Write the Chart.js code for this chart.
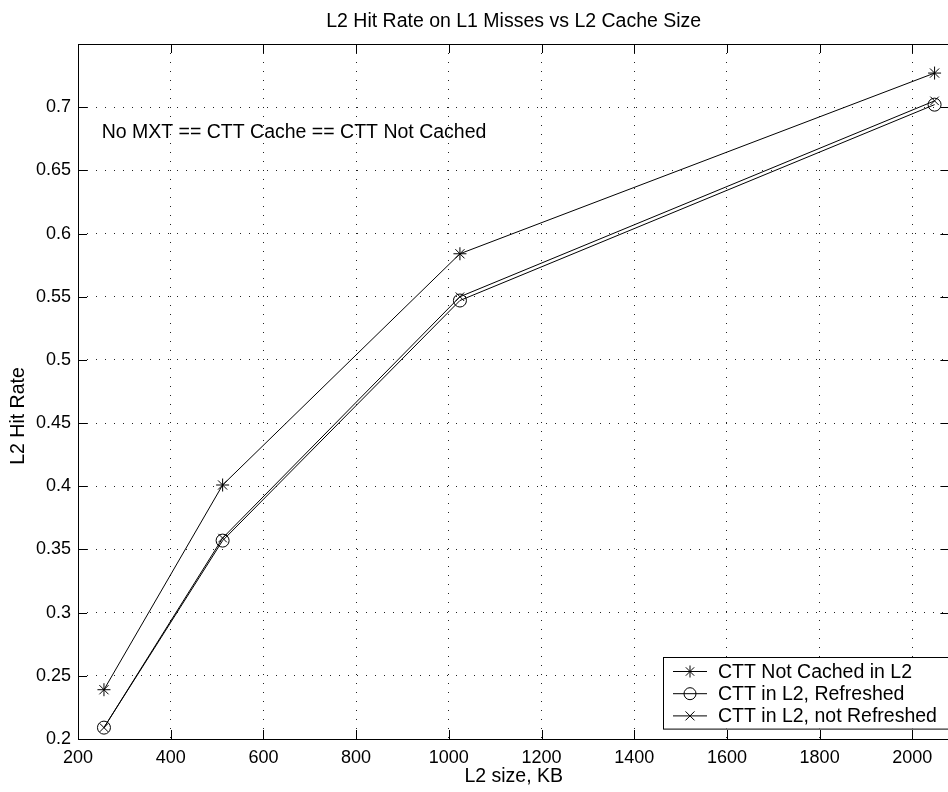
<!DOCTYPE html>
<html>
<head>
<meta charset="utf-8">
<script src="https://cdn.jsdelivr.net/npm/chart.js@4.4.1/dist/chart.umd.min.js"></script>
<style>
    html, body { margin: 0; padding: 0; overflow: hidden; background: #fff; }
    #wrap { position: relative; width: 960px; height: 792px; }
</style>
</head>
<body>
<div id="wrap"><canvas id="hitChart" width="960" height="792"></canvas></div>
<script>
// data
const sizesKB = [256, 512, 1024, 2048];
const notCachedInL2 = [0.239, 0.401, 0.584, 0.727];
const inL2Refreshed = [0.209, 0.357, 0.547, 0.702];
const inL2NotRefreshed = [0.209, 0.359, 0.550, 0.705];
const seriesLabels = ['CTT Not Cached in L2', 'CTT in L2, Refreshed', 'CTT in L2, not Refreshed'];
const seriesMarkers = ['star', 'circle', 'crossRot'];
const noteText = 'No MXT == CTT Cache == CTT Not Cached';
const yAxisLabel = 'L2 Hit Rate';

const FONT = "'Liberation Sans', Arial, Helvetica, sans-serif";
const TEXT_SIZE = 19.5;

function drawMarker(ctx, style, x, y, r) {
    ctx.beginPath();
    if (style === 'circle') {
        ctx.arc(x, y, r, 0, Math.PI * 2);
    } else if (style === 'crossRot') {
        const d = r * 0.75;
        ctx.moveTo(x - d, y - d); ctx.lineTo(x + d, y + d);
        ctx.moveTo(x - d, y + d); ctx.lineTo(x + d, y - d);
    } else {
        const d = r * 0.7;
        ctx.moveTo(x - r, y); ctx.lineTo(x + r, y);
        ctx.moveTo(x, y - r); ctx.lineTo(x, y + r);
        ctx.moveTo(x - d, y - d); ctx.lineTo(x + d, y + d);
        ctx.moveTo(x - d, y + d); ctx.lineTo(x + d, y - d);
    }
    ctx.stroke();
}

// solid axes box + MATLAB style inward ticks
const axesFrame = {
    id: 'axesFrame',
    afterDatasetsDraw(chart) {
        const { ctx, chartArea: a, scales } = chart;
        ctx.save();
        ctx.setLineDash([]);
        ctx.strokeStyle = '#000';
        ctx.lineWidth = 1;
        ctx.strokeRect(Math.round(a.left) + 0.5, Math.round(a.top) + 0.5,
            Math.round(a.right - a.left), Math.round(a.bottom - a.top));
        ctx.beginPath();
        scales.x.ticks.forEach(t => {
            const px = Math.round(scales.x.getPixelForValue(t.value)) + 0.5;
            ctx.moveTo(px, a.bottom); ctx.lineTo(px, a.bottom - 9);
            ctx.moveTo(px, a.top); ctx.lineTo(px, a.top + 9);
        });
        scales.y.ticks.forEach(t => {
            const py = Math.round(scales.y.getPixelForValue(t.value)) + 0.5;
            ctx.moveTo(a.left, py); ctx.lineTo(a.left + 9, py);
            ctx.moveTo(a.right, py); ctx.lineTo(a.right - 9, py);
        });
        ctx.stroke();

        // y axis label, sits a bit below the axes centre in the original
        ctx.font = TEXT_SIZE + 'px ' + FONT;
        ctx.fillStyle = '#000';
        ctx.textAlign = 'center';
        ctx.textBaseline = 'middle';
        ctx.translate(19, 416);
        ctx.rotate(-Math.PI / 2);
        ctx.fillText(yAxisLabel, 0, 0);
        ctx.restore();
    }
};

const noteLabel = {
    id: 'noteLabel',
    afterDatasetsDraw(chart) {
        const { ctx, scales } = chart;
        ctx.save();
        ctx.font = TEXT_SIZE + 'px ' + FONT;
        ctx.fillStyle = '#000';
        ctx.textAlign = 'left';
        ctx.textBaseline = 'middle';
        ctx.fillText(noteText, scales.x.getPixelForValue(251), scales.y.getPixelForValue(0.680));
        ctx.restore();
    }
};

const boxLegend = {
    id: 'boxLegend',
    afterDraw(chart) {
        const { ctx } = chart;
        const left = 663, top = 657, w = 295, rowH = 22.2;
        const h = rowH * chart.data.datasets.length + 5;
        ctx.save();
        ctx.fillStyle = '#fff';
        ctx.fillRect(left, top, w, h);
        ctx.strokeStyle = '#000';
        ctx.lineWidth = 1;
        ctx.strokeRect(left + 0.5, top + 0.5, w, h);
        ctx.font = TEXT_SIZE + 'px ' + FONT;
        ctx.fillStyle = '#000';
        ctx.textBaseline = 'middle';
        chart.data.datasets.forEach((ds, i) => {
            const y = top + 14.5 + i * rowH;
            ctx.beginPath();
            ctx.moveTo(673, y); ctx.lineTo(707, y);
            ctx.stroke();
            drawMarker(ctx, ds.pointStyle, 690, y, 6);
            ctx.fillText(ds.label, 718, y + 1);
        });
        ctx.restore();
    }
};

function makeSeries(label, values, marker) {
    return {
        label,
        data: sizesKB.map((x, i) => ({ x, y: values[i] })),
        borderColor: '#000',
        borderWidth: 1,
        backgroundColor: 'rgba(0,0,0,0)',
        pointStyle: marker,
        pointRadius: marker === 'crossRot' ? 6 : 6.5,
        pointBorderWidth: 1,
        pointBorderColor: '#000',
        pointBackgroundColor: 'rgba(0,0,0,0)',
        tension: 0
    };
}

const dottedGrid = {
    color: '#222',
    lineWidth: 1,
    drawTicks: false
};

const ctx = document.getElementById('hitChart').getContext('2d');
new Chart(ctx, {
    type: 'line',
    data: {
        datasets: [
            makeSeries(seriesLabels[0], notCachedInL2, seriesMarkers[0]),
            makeSeries(seriesLabels[1], inL2Refreshed, seriesMarkers[1]),
            makeSeries(seriesLabels[2], inL2NotRefreshed, seriesMarkers[2])
        ]
    },
    options: {
        responsive: false,
        animation: false,
        devicePixelRatio: 1,
        layout: { padding: { left: 0, right: 10.6, top: 0, bottom: 0 } },
        plugins: {
            legend: { display: false },
            tooltip: { enabled: false },
            title: {
                display: true,
                fullSize: false,
                text: 'L2 Hit Rate on L1 Misses vs L2 Cache Size',
                color: '#000',
                font: { family: FONT, size: TEXT_SIZE, weight: 'normal', lineHeight: 1.2 },
                padding: { top: 10, bottom: 10.6 }
            }
        },
        scales: {
            x: {
                type: 'linear',
                min: 200,
                max: 2080,
                afterFit(scale) { scale.height = 53; },
                border: { display: false, dash: [1, 8] },
                grid: dottedGrid,
                ticks: {
                    stepSize: 200,
                    includeBounds: false,
                    color: '#000',
                    padding: 8,
                    font: { family: FONT, size: 18 },
                    callback: v => String(v)
                },
                title: {
                    display: true,
                    text: 'L2 size, KB',
                    color: '#000',
                    font: { family: FONT, size: TEXT_SIZE, lineHeight: 1.2 },
                    padding: { top: 0, bottom: 4 }
                }
            },
            y: {
                type: 'linear',
                min: 0.2,
                max: 0.75,
                afterFit(scale) { scale.width = 78; },
                border: { display: false, dash: [1, 8] },
                grid: dottedGrid,
                ticks: {
                    stepSize: 0.05,
                    color: '#000',
                    padding: 7,
                    font: { family: FONT, size: 18 },
                    callback: v => (v > 0.72 ? '' : String(parseFloat(v.toFixed(2))))
                },
                title: { display: false }
            }
        }
    },
    plugins: [axesFrame, noteLabel, boxLegend]
});
</script>
</body>
</html>
